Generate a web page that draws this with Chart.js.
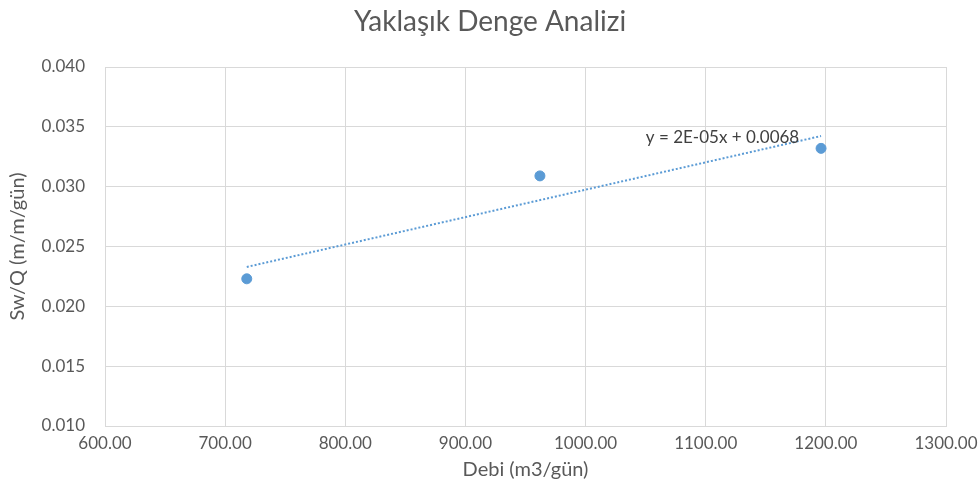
<!DOCTYPE html>
<html>
<head>
<meta charset="utf-8">
<script src="https://cdn.jsdelivr.net/npm/chart.js@4/dist/chart.umd.min.js"></script>
<style>
  html, body { margin: 0; padding: 0; background: #fff; }
  #wrap { width: 980px; height: 500px; }
</style>
</head>
<body>
<div id="wrap"><canvas id="myChart" width="980" height="500"></canvas></div>
<script>
var chartTitle = "Yaklaşık Denge Analizi";
var xTitle = "Debi (m3/gün)";
var yTitle = "Sw/Q (m/m/gün)";
var debi = [718, 962, 1196];
var swq = [0.0223, 0.0309, 0.0332];
var trendLabel = "y = 2E-05x + 0.0068";
var trendLabelAt = [1114, 0.0341];

var FONT = "Lato, 'Open Sans', sans-serif";
var GREY = "#595959";

// linear least squares, like the spreadsheet trendline
var fit = function (xs, ys) {
    var n = xs.length;
    var mx = xs.reduce(function (a, b) { return a + b; }, 0) / n;
    var my = ys.reduce(function (a, b) { return a + b; }, 0) / n;
    var sxy = 0, sxx = 0;
    for (var i = 0; i < n; i++) {
        sxy += (xs[i] - mx) * (ys[i] - my);
        sxx += (xs[i] - mx) * (xs[i] - mx);
    }
    var m = sxy / sxx;
    return { m: m, b: my - m * mx };
};
var line = fit(debi, swq);
var xLo = Math.min.apply(null, debi), xHi = Math.max.apply(null, debi);
var trendPoints = [
    { x: xLo, y: line.m * xLo + line.b },
    { x: xHi, y: line.m * xHi + line.b }
];

var extras = {
    id: 'extras',
    afterDraw: function (chart) {
        var ctx = chart.ctx;
        ctx.save();
        ctx.fillStyle = GREY;
        ctx.textAlign = 'center';
        ctx.textBaseline = 'middle';
        ctx.font = "28px " + FONT;
        ctx.fillText(chartTitle, 490, 22);
        ctx.font = "17px " + FONT;
        ctx.fillStyle = "#404040";
        ctx.fillText(trendLabel, chart.scales.x.getPixelForValue(trendLabelAt[0]),
            chart.scales.y.getPixelForValue(trendLabelAt[1]));
        ctx.restore();
    }
};

var ctx = document.getElementById('myChart');
var myChart = new Chart(ctx, {
    type: 'scatter',
    data: {
        datasets: [
            {
                label: 'Sw/Q',
                data: debi.map(function (d, i) { return { x: d, y: swq[i] }; }),
                backgroundColor: '#5b9bd5',
                borderColor: '#5b9bd5',
                pointRadius: 5,
                pointHoverRadius: 5
            },
            {
                label: 'trend',
                type: 'line',
                data: trendPoints,
                borderColor: '#5b9bd5',
                borderWidth: 2,
                borderDash: [2, 2],
                pointRadius: 0,
                fill: false
            }
        ]
    },
    options: {
        responsive: false,
        animation: false,
        layout: { padding: { top: 67, right: 34, left: 0, bottom: 14 } },
        plugins: {
            legend: { display: false },
            tooltip: { enabled: false }
        },
        scales: {
            x: {
                type: 'linear',
                min: 600, max: 1300,
                afterFit: function (s) { s.height = 60; s.paddingRight = 0; s.paddingLeft = 0; },
                grid: { color: '#d9d9d9', drawTicks: false },
                border: { color: '#d9d9d9' },
                ticks: {
                    stepSize: 100, padding: 7, color: GREY,
                    font: { family: FONT, size: 17 },
                    callback: function (v) { return v.toFixed(2); }
                },
                title: {
                    display: true, text: xTitle, color: GREY,
                    font: { family: FONT, size: 20 },
                    padding: { top: 2 }
                }
            },
            y: {
                min: 0.01, max: 0.04,
                afterFit: function (s) { s.width = 105; s.paddingTop = 0; s.paddingBottom = 0; },
                grid: { color: '#d9d9d9', drawTicks: false },
                border: { color: '#d9d9d9' },
                ticks: {
                    stepSize: 0.005, padding: 20, color: GREY,
                    font: { family: FONT, size: 17 },
                    callback: function (v) { return v.toFixed(3); }
                },
                title: {
                    display: true, text: yTitle, color: GREY,
                    font: { family: FONT, size: 20 },
                    padding: { top: 6, bottom: 4 }
                }
            }
        }
    },
    plugins: [extras]
});
</script>
</body>
</html>
